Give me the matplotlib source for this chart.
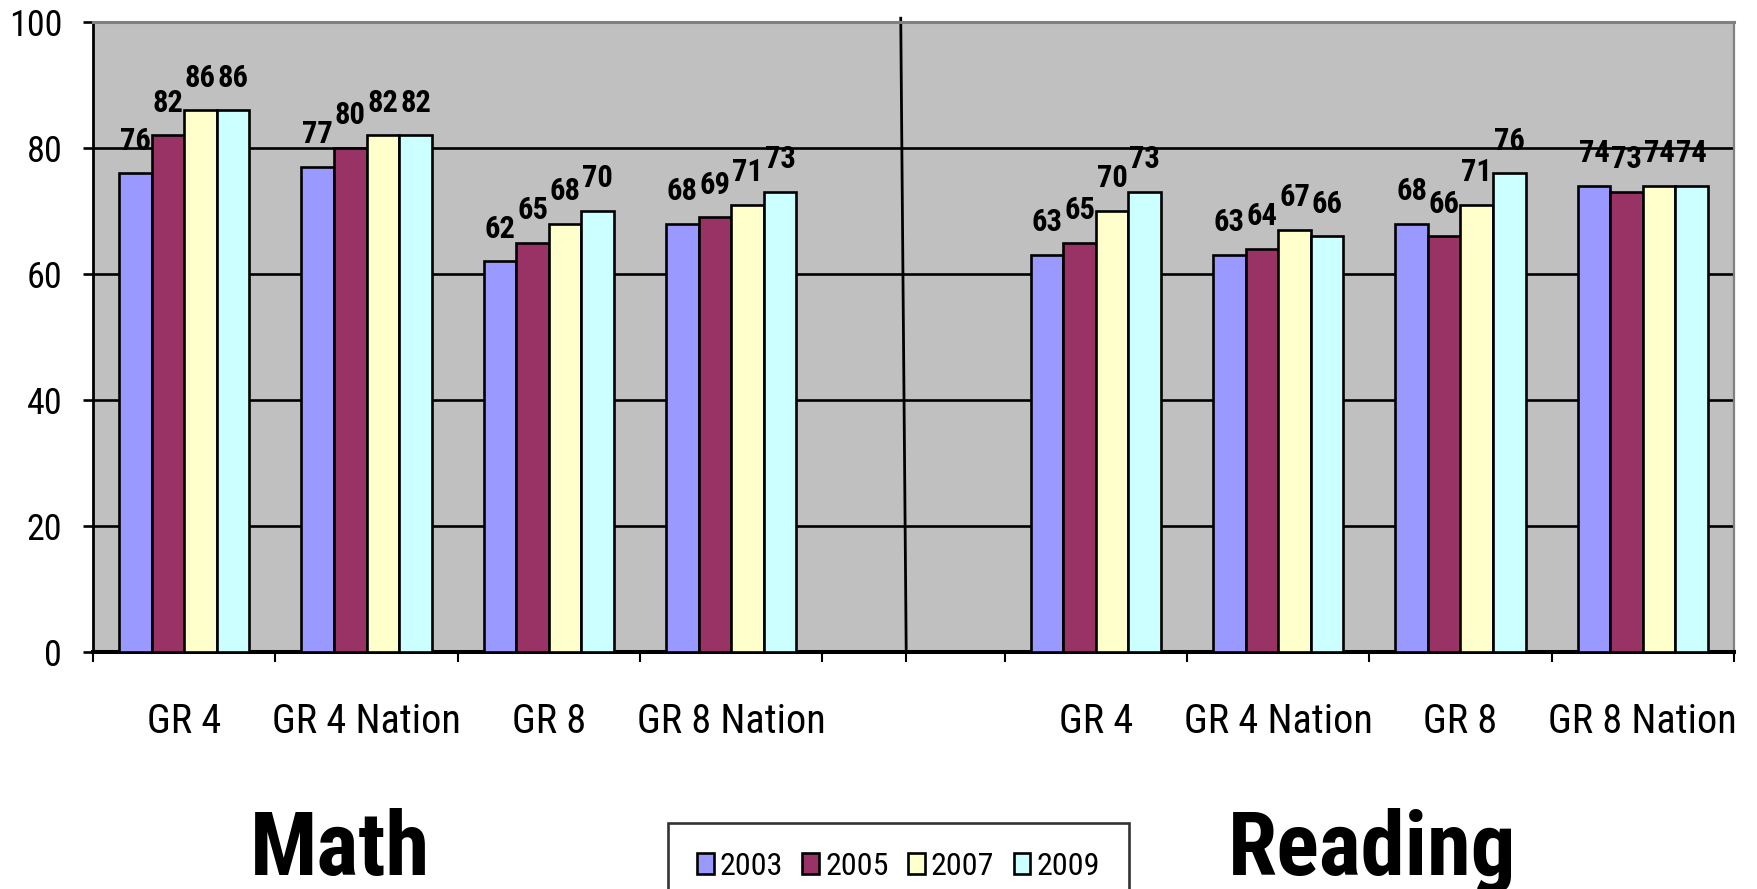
import numpy as np
import matplotlib
matplotlib.use("Agg")
import matplotlib.pyplot as plt
from matplotlib.patches import Patch

# narrow sans to stand in for Arial Narrow
plt.rcParams['font.family'] = ['Roboto Condensed', 'DejaVu Sans']
plt.rcParams['font.stretch'] = 'condensed'

# data
years = ["2003", "2005", "2007", "2009"]
categories = ["GR 4", "GR 4 Nation", "GR 8", "GR 8 Nation"]
math_scores = [
    [76, 82, 86, 86],   # GR 4
    [77, 80, 82, 82],   # GR 4 Nation
    [62, 65, 68, 70],   # GR 8
    [68, 69, 71, 73],   # GR 8 Nation
]
reading_scores = [
    [63, 65, 70, 73],
    [63, 64, 67, 66],
    [68, 66, 71, 76],
    [74, 73, 74, 74],
]
colors = ["#9999FF", "#993366", "#FFFFCC", "#CCFFFF"]

# hand-drawn divider between the subjects (slightly slanted in the original)
divider_bottom = 4.46
divider_top = 4.43

W, H = 1757, 889
fig = plt.figure(figsize=(W / 100, H / 100), dpi=100)
ax = fig.add_axes([93 / W, 1 - 652 / H, (1734 - 93) / W, (652 - 22) / H])
ax.set_facecolor("#C0C0C0")

# 9 slots: 4 math, one empty, 4 reading
slots = list(range(4)) + list(range(5, 9))
labels = categories + categories
scores = np.array(math_scores + reading_scores)
bar_w = 0.179

for j, year in enumerate(years):
    xs = np.array(slots) + 0.5 + (j - 1.5) * bar_w
    vals = scores[:, j]
    ax.bar(xs, vals, width=bar_w, color=colors[j], edgecolor="black",
           linewidth=1.9, zorder=3, label=year)
    for x, v in zip(xs, vals):
        ax.annotate(str(v), (x, v), xytext=(0, 17), textcoords="offset points",
                    ha="center", va="baseline", fontsize=22, fontweight="bold",
                    zorder=4)

ax.set_xlim(0, 9)
ax.set_ylim(0, 100)

# horizontal gridlines
ax.set_yticks([0, 20, 40, 60, 80, 100])
ax.yaxis.grid(True, color="black", linewidth=1.9, zorder=1)
ax.set_axisbelow(True)
ax.tick_params(axis="y", direction="out", length=7.2, width=1.9, pad=15,
               labelsize=26)

# boundary ticks, category labels at slot centers
ax.set_xticks(list(range(10)) + [divider_bottom])
ax.set_xticklabels([])
ax.set_xticks([s + 0.5 for s in slots], minor=True)
ax.set_xticklabels(labels, minor=True)
ax.tick_params(axis="x", which="major", direction="out", length=7, width=1.5)
ax.tick_params(axis="x", which="minor", length=0, pad=36, labelsize=29)

ax.plot([divider_bottom, divider_top], [0, 100.6], color="black",
        linewidth=2.0, clip_on=False, zorder=2)

ax.spines["top"].set_color("#808080")
ax.spines["top"].set_linewidth(2.2)
ax.spines["right"].set_color("#808080")
ax.spines["right"].set_linewidth(1.6)
ax.spines["left"].set_linewidth(2.0)
ax.spines["bottom"].set_linewidth(2.9)

fig.text(340 / W, 1 - 875 / H, "Math", ha="center", va="baseline",
         fontsize=64, fontweight="bold")
fig.text(1372 / W, 1 - 875 / H, "Reading", ha="center", va="baseline",
         fontsize=64, fontweight="bold")

handles = [Patch(facecolor=c, edgecolor="black", linewidth=1.9) for c in colors]
leg = fig.legend(handles, years, loc="upper left",
                 bbox_to_anchor=(668 / W, 1 - 823 / H), ncol=4, fontsize=23,
                 frameon=True, fancybox=False, shadow=False,
                 handlelength=0.53, handleheight=0.63, handletextpad=0.19,
                 columnspacing=0.6, borderpad=0.9, borderaxespad=0)
leg.get_frame().set_edgecolor("black")
leg.get_frame().set_linewidth(1.9)
leg.get_frame().set_facecolor("white")

fig.savefig("out.png", dpi=100)
